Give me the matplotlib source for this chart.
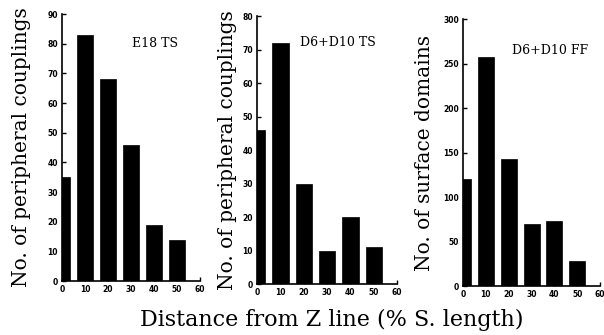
import matplotlib
matplotlib.use("Agg")
import matplotlib.pyplot as plt

distance = [0, 10, 20, 30, 40, 50]
x_ticks = [0, 10, 20, 30, 40, 50, 60]

e18_ts = [35, 83, 68, 46, 19, 14]
d6d10_ts = [46, 72, 30, 10, 20, 11]
d6d10_ff = [120, 257, 143, 70, 73, 28]

titles = ["E18 TS", "D6+D10 TS", "D6+D10 FF"]
ylabels = ["No. of peripheral couplings", "No. of peripheral couplings",
           "No. of surface domains"]
yticks_list = [list(range(0, 91, 10)), list(range(0, 81, 10)),
               list(range(0, 301, 50))]
ylims = [90, 80, 300]
series = [e18_ts, d6d10_ts, d6d10_ff]

serif = ["DejaVu Serif"]

fig = plt.figure(figsize=(6.04, 3.35), dpi=100)
positions = [
    [0.1026, 0.161, 0.2285, 0.797],
    [0.4255, 0.152, 0.2318, 0.800],
    [0.7666, 0.146, 0.2268, 0.797],
]
label_x = [31, 237, 434]
title_pos = [(0.507, 0.891), (0.307, 0.90), (0.358, 0.884)]

for pos, vals, title, ylab, yt, ym, lx, tp in zip(positions, series, titles,
                                                 ylabels, yticks_list, ylims,
                                                 label_x, title_pos):
    ax = fig.add_axes(pos)
    ax.bar(distance, vals, width=7, color="black", edgecolor="black",
           linewidth=0.5, clip_on=True)
    ax.set_xlim(0, 60)
    ax.set_ylim(0, ym)
    ax.set_xticks(x_ticks)
    ax.set_yticks(yt)
    ax.spines["top"].set_visible(False)
    ax.spines["right"].set_visible(False)
    for s in ("left", "bottom"):
        ax.spines[s].set_linewidth(1.2)
    ax.tick_params(axis="both", direction="in", length=3, width=1,
                   labelsize=5.5, pad=3)
    for lab in ax.get_xticklabels() + ax.get_yticklabels():
        lab.set_fontweight("bold")
    ax.set_ylabel(ylab, family=serif, fontsize=14.5)
    ax.yaxis.set_label_coords((lx - pos[0] * 604) / (pos[2] * 604), 0.5)
    ax.text(tp[0], tp[1], title, transform=ax.transAxes, ha="left",
            va="center", family=serif, fontsize=9)

fig.text(0.55, 0.045, "Distance from Z line (% S. length)", ha="center",
         va="center", family=serif, fontsize=16)

fig.savefig("out.png", dpi=100)
